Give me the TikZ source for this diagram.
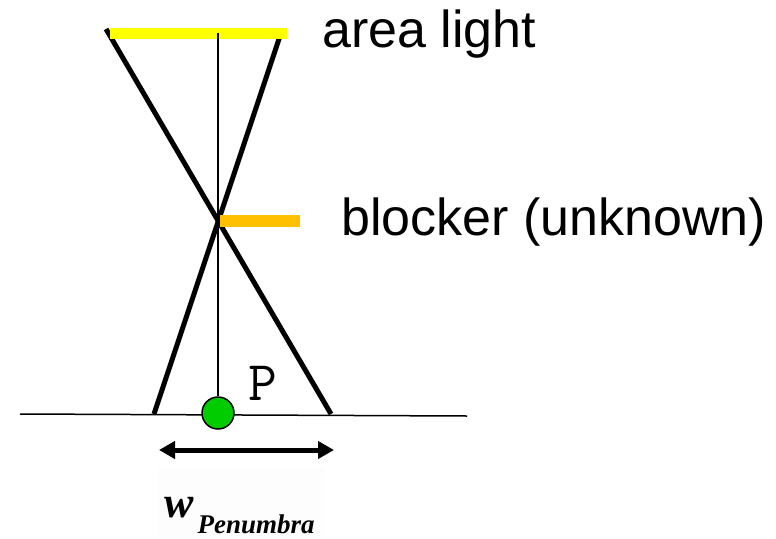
\documentclass[tikz,border=0pt]{standalone}
\usepackage{fontspec}
\setmainfont{Liberation Sans}
\newfontfamily\wfont{Liberation Serif}
\setmonofont{Latin Modern Mono}
\usetikzlibrary{arrows.meta}
\definecolor{lightcol}{HTML}{FFFF00}
\definecolor{blockcol}{HTML}{FFC000}
\definecolor{pointcol}{HTML}{00CC00}
\tikzset{
  bigtext/.style={inner sep=0pt,anchor=base west,font=\fontsize{52}{60}\selectfont},
  rayline/.style={line width=5pt,black},
  thinline/.style={line width=1.5pt,black},
  widtharrow/.style={line width=5pt,{Triangle[length=16pt,width=17pt]}-{Triangle[length=16pt,width=17pt]}}
}
\begin{document}
\begin{tikzpicture}[x=1pt,y=-1pt,line join=round]
\useasboundingbox (0,0) rectangle (776,538);
\fill[black!0.8] (157,467) rectangle (324,538);
% light, blocker and receiver
\coordinate (L1) at (110,33); \coordinate (L2) at (287,33);
\coordinate (B1) at (220,221); \coordinate (B2) at (300,221);
\coordinate (G1) at (20,414); \coordinate (G2) at (467,416);
\coordinate (R1) at (106,29); \coordinate (R2) at (331,414);
\coordinate (S1) at (280,36); \coordinate (S2) at (154,414);
\coordinate (C) at (218,33);
\coordinate (A1) at (159,450); \coordinate (A2) at (334,450);

\draw[thinline] (G1)--(G2);
\draw[rayline] (R1)--(R2);
\draw[rayline] (S1)--(S2);
\draw[line width=11pt,lightcol] (L1)--(L2);
\draw[line width=12pt,blockcol] (B1)--(B2);
\node[circle,draw,line width=1.5pt,fill=pointcol,minimum size=32pt,inner sep=0pt] (P) at (218,413) {};
\draw[thinline] (C)--(P);

\node[bigtext] (arealight) at (322,47) {area light};
\node[bigtext] (blocker) at (341,235) {blocker (unknown)};
\node[bigtext,font=\fontsize{56}{60}\selectfont\ttfamily] (plabel) at (248,400) {P};

\draw[widtharrow] (A1)--(A2);
\node[inner sep=0pt,anchor=base west] (wlabel) at (164,517)
  {\wfont\bfseries\itshape\fontsize{44}{46}\selectfont w\hspace{4pt}\raisebox{-16pt}{\fontsize{27}{30}\selectfont Penumbra}};
\end{tikzpicture}
\end{document}
